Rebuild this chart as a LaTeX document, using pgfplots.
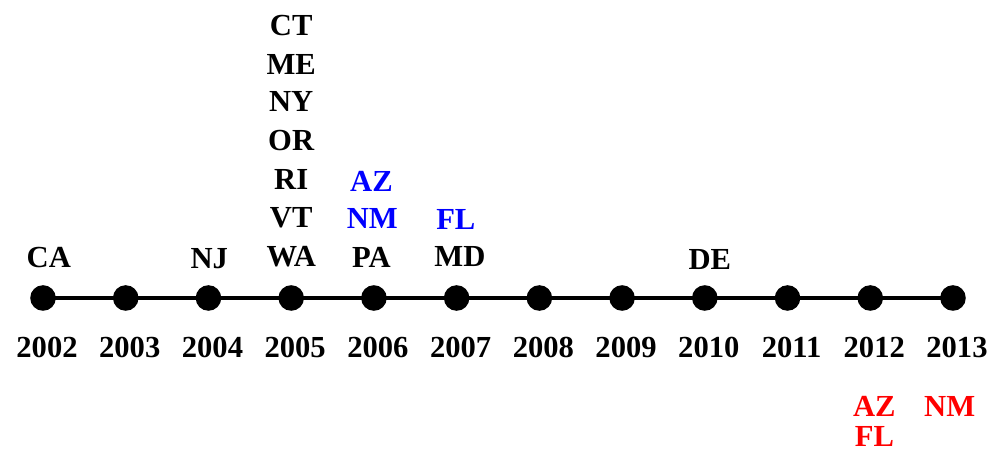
\documentclass[border=0pt]{standalone}
\usepackage{fontspec}
\setmainfont{Liberation Serif}
\usepackage{pgfplots}
\pgfplotsset{compat=1.18}
\usepackage{pgfplotstable}
\definecolor{lblblue}{RGB}{0,0,255}
\definecolor{lblred}{RGB}{255,0,0}
\pgfplotstableread{
x y
2002 0
2003 0
2004 0
2005 0
2006 0
2007 0
2008 0
2009 0
2010 0
2011 0
2012 0
2013 0
}\timeline
\pgfplotstableread{
x y label
2002 -49.5 2002
2003 -49.5 2003
2004 -49.5 2004
2005 -49.5 2005
2006 -49.5 2006
2007 -49.5 2007
2008 -49.5 2008
2009 -49.5 2009
2010 -49.5 2010
2011 -49.5 2011
2012 -49.5 2012
2013 -49.5 2013
}\yearlabels
\pgfplotstableread{
x y label
2002.07 40.5 CA
2004.01 39 NJ
2005 41 WA
2005 80 VT
2005 119 RI
2005 157 OR
2005 197 NY
2005 234 ME
2005 272 CT
2005.97 41 PA
2007.04 41 MD
2010.06 38 DE
}\blacklabels
\pgfplotstableread{
x y label
2005.98 80 NM
2005.97 117 AZ
2006.99 79 FL
}\bluelabels
\pgfplotstableread{
x y label
2012.05 -108 AZ
2012.05 -138 FL
2012.96 -108 NM
}\redlabels
\begin{document}
\begin{tikzpicture}
\begin{axis}[
  scale only axis,
  width=497.5pt, height=226.5pt,
  xmin=2001.48, xmax=2013.508,
  ymin=-155, ymax=298,
  hide axis, clip=false,
  nodes near coords align={center},
  every node near coord/.append style={anchor=center, inner sep=0pt,
     font=\fontsize{15.3}{18}\selectfont\bfseries},
]
\addplot[black, line width=2.25pt, mark=*, mark size=5.25pt] table {\timeline};
\addplot[draw=none, mark=none, nodes near coords, point meta=explicit symbolic,
  every node near coord/.append style={xshift=2pt, text=black}]
  table[meta=label] {\yearlabels};
\addplot[draw=none, mark=none, nodes near coords, point meta=explicit symbolic,
  every node near coord/.append style={text=black}]
  table[meta=label] {\blacklabels};
\addplot[draw=none, mark=none, nodes near coords, point meta=explicit symbolic,
  every node near coord/.append style={text=lblblue}]
  table[meta=label] {\bluelabels};
\addplot[draw=none, mark=none, nodes near coords, point meta=explicit symbolic,
  every node near coord/.append style={text=lblred}]
  table[meta=label] {\redlabels};
\end{axis}
\pgfresetboundingbox
\useasboundingbox (current axis.south west) rectangle (current axis.north east);
\end{tikzpicture}
\end{document}
